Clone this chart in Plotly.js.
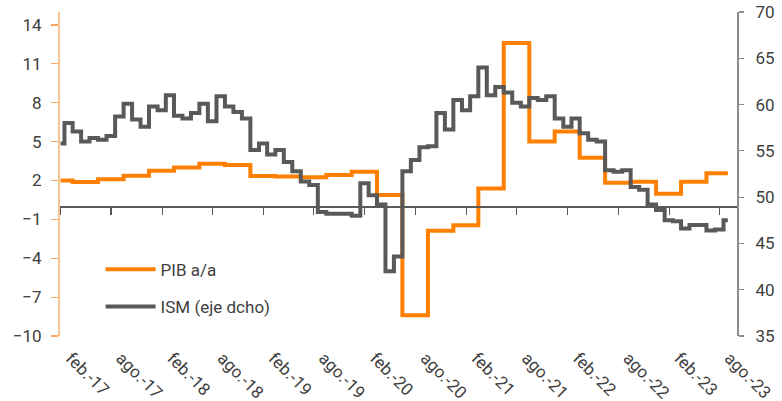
<!DOCTYPE html>
<html>
<head>
<meta charset="utf-8">
<script src="https://cdn.plot.ly/plotly-3.0.1.min.js"></script>
<style>
  html, body { margin: 0; padding: 0; background: #ffffff; }
  #chart { width: 782px; height: 401px; }
</style>
</head>
<body>
<div id="chart"></div>
<script>
// Monthly categories (value dated at end of month)
const months = [
  '2017-01','2017-02','2017-03','2017-04','2017-05','2017-06','2017-07','2017-08','2017-09','2017-10','2017-11','2017-12',
  '2018-01','2018-02','2018-03','2018-04','2018-05','2018-06','2018-07','2018-08','2018-09','2018-10','2018-11','2018-12',
  '2019-01','2019-02','2019-03','2019-04','2019-05','2019-06','2019-07','2019-08','2019-09','2019-10','2019-11','2019-12',
  '2020-01','2020-02','2020-03','2020-04','2020-05','2020-06','2020-07','2020-08','2020-09','2020-10','2020-11','2020-12',
  '2021-01','2021-02','2021-03','2021-04','2021-05','2021-06','2021-07','2021-08','2021-09','2021-10','2021-11','2021-12',
  '2022-01','2022-02','2022-03','2022-04','2022-05','2022-06','2022-07','2022-08','2022-09','2022-10','2022-11','2022-12',
  '2023-01','2023-02','2023-03','2023-04','2023-05','2023-06','2023-07','2023-08'
];

// ISM manufacturing (right axis)
const ism = [
  55.8, 58.0, 57.1, 56.0, 56.4, 56.2, 56.6, 58.7, 60.1, 58.4, 57.6, 59.8,
  59.4, 61.0, 58.8, 58.5, 59.1, 60.1, 58.2, 60.9, 59.8, 59.2, 58.5, 55.1,
  55.8, 54.6, 55.1, 53.8, 52.8, 51.7, 51.3, 48.4, 48.2, 48.2, 48.2, 48.0,
  51.5, 50.2, 49.2, 42.0, 43.6, 52.8, 54.0, 55.4, 55.5, 59.1, 57.3, 60.5,
  59.4, 60.9, 64.0, 61.0, 61.9, 61.3, 60.2, 59.8, 60.7, 60.5, 60.9, 58.5,
  57.6, 58.5, 56.9, 56.2, 56.0, 52.9, 52.75, 52.9, 51.1, 50.8, 49.2, 48.6,
  47.5, 47.4, 46.6, 47.0, 47.0, 46.4, 46.5, 47.5
];

// GDP y/y by quarter (left axis), shown from the quarter's last month
const gdpQuarters = [
  '2016-Q4',
  '2017-Q1','2017-Q2','2017-Q3','2017-Q4',
  '2018-Q1','2018-Q2','2018-Q3','2018-Q4',
  '2019-Q1','2019-Q2','2019-Q3','2019-Q4',
  '2020-Q1','2020-Q2','2020-Q3','2020-Q4',
  '2021-Q1','2021-Q2','2021-Q3','2021-Q4',
  '2022-Q1','2022-Q2','2022-Q3','2022-Q4',
  '2023-Q1','2023-Q2'
];
const gdp = [
  2.0,
  1.88, 2.09, 2.37, 2.75,
  3.0, 3.3, 3.2, 2.35,
  2.3, 2.25, 2.42, 2.68,
  0.88, -8.4, -1.87, -1.45,
  1.39, 12.6, 5.0, 5.77,
  3.76, 1.83, 1.91, 0.97,
  1.91, 2.55
];

// Tick labels
const tickMonths = ['2017-02','2017-08','2018-02','2018-08','2019-02','2019-08','2020-02','2020-08',
                    '2021-02','2021-08','2022-02','2022-08','2023-02','2023-08'];
const tickText = ['feb.-17','ago.-17','feb.-18','ago.-18','feb.-19','ago.-19','feb.-20','ago.-20',
                  'feb.-21','ago.-21','feb.-22','ago.-22','feb.-23','ago.-23'];

// ---- helpers ----
function monthEnd(m) {
  const [y, mo] = m.split('-').map(Number);
  return new Date(Date.UTC(y, mo, 0)).toISOString().slice(0, 10);
}
function monthIndex(m) {
  const [y, mo] = m.split('-').map(Number);
  return y * 12 + (mo - 1);
}
const xDates = months.map(monthEnd);

// forward-fill quarterly GDP onto monthly grid
const qEnd = gdpQuarters.map(q => {
  const [y, qq] = q.split('-Q').map(Number);
  return y * 12 + (qq * 3 - 1);
});
const gdpMonthly = months.map(m => {
  const mi = monthIndex(m);
  let v = null;
  for (let k = 0; k < qEnd.length; k++) if (qEnd[k] <= mi) v = gdp[k];
  return v;
});

const xRange = ['2017-01-29', '2023-10-03'];
const tickVals = tickMonths.map(m => m + '-01');

const FONT = 'Roboto, "Open Sans", sans-serif';
const TXT = '#404040';

const traces = [
  {
    x: xDates, y: gdpMonthly, name: 'PIB a/a',
    type: 'scatter', mode: 'lines',
    line: { color: '#FF8000', width: 4, shape: 'hvh' },
    xaxis: 'x', yaxis: 'y',
    legendgroup: 'a'
  },
  {
    x: xDates, y: ism, name: 'ISM (eje dcho)',
    type: 'scatter', mode: 'lines',
    line: { color: '#595959', width: 4, shape: 'hvh' },
    xaxis: 'x2', yaxis: 'y2',
    legendgroup: 'b'
  }
];

const layout = {
  width: 782, height: 401,
  margin: { l: 60, r: 45, t: 12, b: 65 },
  paper_bgcolor: '#ffffff', plot_bgcolor: '#ffffff',
  font: { family: FONT, size: 17, color: TXT },
  showlegend: true,
  legend: {
    x: 0.06, y: 0.26, xanchor: 'left', yanchor: 'top',
    bgcolor: 'rgba(0,0,0,0)', font: { family: FONT, size: 17, color: TXT },
    traceorder: 'grouped', tracegroupgap: 12, itemwidth: 50
  },
  xaxis: {
    type: 'date', range: xRange,
    tickmode: 'array', tickvals: tickVals, ticktext: tickText,
    tickangle: 45, showline: false, ticks: '', showgrid: false, zeroline: false,
    ticklabelshift: 10, ticklabelstandoff: 8,
    tickfont: { family: FONT, size: 17, color: TXT }
  },
  xaxis2: {
    type: 'date', range: xRange, overlaying: 'x', anchor: 'free', position: 0.4,
    tickmode: 'array', tickvals: tickVals, showticklabels: false,
    showline: true, linecolor: '#595959', linewidth: 1.5,
    ticks: 'outside', ticklen: 7, tickcolor: '#595959', tickwidth: 1.2,
    showgrid: false, zeroline: false
  },
  yaxis: {
    range: [-10, 15], tickmode: 'linear', tick0: -10, dtick: 3,
    showline: true, linecolor: '#F9C494', linewidth: 2,
    ticks: 'outside', ticklen: 7, tickcolor: '#F6A55E', tickwidth: 1.2,
    showgrid: false, zeroline: false, ticklabelstandoff: 6,
    tickfont: { family: FONT, size: 17, color: TXT }
  },
  yaxis2: {
    range: [35, 70], tickmode: 'linear', tick0: 35, dtick: 5,
    overlaying: 'y', side: 'right', anchor: 'x2',
    showline: true, linecolor: '#8C8C8C', linewidth: 1.5,
    ticks: 'outside', ticklen: 5, tickcolor: '#8C8C8C', tickwidth: 1.2,
    showgrid: false, zeroline: false, tickprefix: '\u2002',
    tickfont: { family: FONT, size: 17, color: TXT }
  }
};

Plotly.newPlot('chart', traces, layout, { displayModeBar: false, staticPlot: true });
</script>
</body>
</html>
